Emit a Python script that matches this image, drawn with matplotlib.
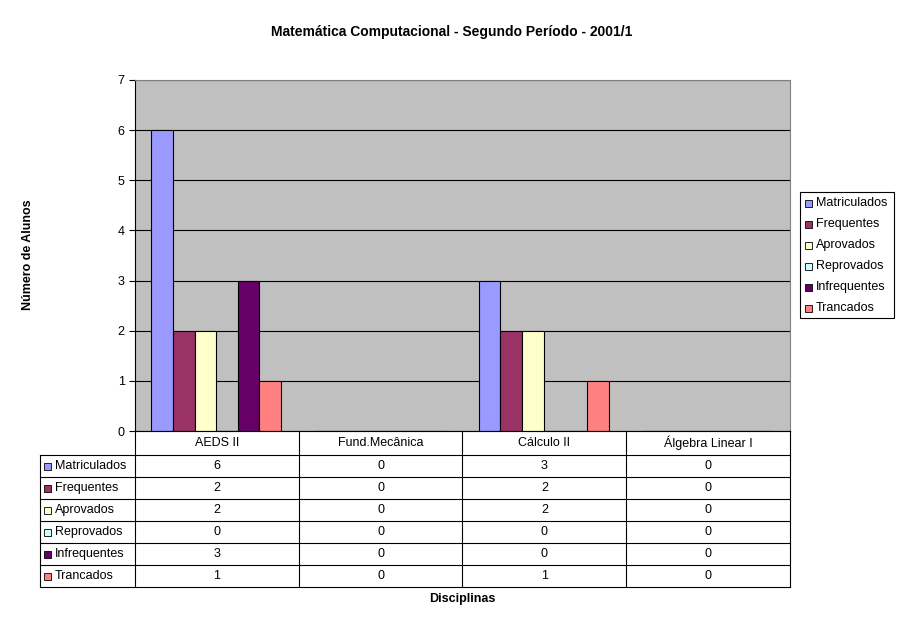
import matplotlib.pyplot as plt
from matplotlib.patches import Rectangle

categories = ["AEDS II", "Fund.Mecânica", "Cálculo II", "Álgebra Linear I"]
series = ["Matriculados", "Frequentes", "Aprovados", "Reprovados", "Infrequentes", "Trancados"]
values = [
    [6, 0, 3, 0],
    [2, 0, 2, 0],
    [2, 0, 2, 0],
    [0, 0, 0, 0],
    [3, 0, 0, 0],
    [1, 0, 1, 0],
]
colors = ["#9999FF", "#993366", "#FFFFCC", "#CCFFFF", "#660066", "#FF8080"]

W, H = 904, 626
fig = plt.figure(figsize=(W / 100, H / 100), dpi=100)
plt.rcParams['font.family'] = ['Liberation Sans', 'DejaVu Sans']

def fx(px):
    return px / W

def fy(py):
    return 1 - py / H

# plot area
x0, x1, y0, y1 = 135, 790, 80, 431
ax = fig.add_axes([fx(x0), fy(y1), fx(x1) - fx(x0), fy(y0) - fy(y1)])
ax.set_facecolor("#C0C0C0")
bw = 0.132
start = -0.5 + 0.1
for i, (name, vals) in enumerate(zip(series, values)):
    xs = [c + start + i * bw for c in range(len(categories))]
    ax.bar(xs, vals, width=bw, align="edge", color=colors[i], edgecolor="black", linewidth=0.8, zorder=3)
ax.set_xlim(-0.5, len(categories) - 0.5)
ax.set_ylim(0, 7)
ax.set_yticks(range(8))
ax.tick_params(axis="y", labelsize=9, length=4, direction="out")
ax.set_xticks([])
ax.grid(axis="y", color="black", linewidth=0.8, zorder=0)
for s in ax.spines.values():
    s.set_color("#808080")
ax.spines["left"].set_color("black")

# data table
tab = fig.add_axes([0, 0, 1, 1])
tab.set_xlim(0, W)
tab.set_ylim(H, 0)
tab.axis("off")
row_top = 431
hdr_h = 24
row_h = 22
left = 40
cw = (x1 - x0) / len(categories)
bottom = row_top + hdr_h + row_h * len(series)
lk = dict(color="black", linewidth=0.8)
# horizontal lines
tab.plot([x0, x1], [row_top, row_top], **lk)
for r in range(len(series) + 1):
    y = row_top + hdr_h + r * row_h
    tab.plot([left, x1], [y, y], **lk)
# vertical lines
tab.plot([left, left], [row_top + hdr_h, bottom], **lk)
for c in range(len(categories) + 1):
    x = x0 + c * cw
    tab.plot([x, x], [row_top, bottom], **lk)
for c, cat in enumerate(categories):
    tab.text(x0 + (c + 0.5) * cw, row_top + hdr_h / 2, cat, ha="center", va="center", fontsize=9)
for r, name in enumerate(series):
    yc = row_top + hdr_h + (r + 0.5) * row_h
    tab.add_patch(Rectangle((44, yc - 3.5), 7, 7, facecolor=colors[r], edgecolor="black", linewidth=0.6))
    tab.text(55, yc, name, ha="left", va="center", fontsize=9)
    for c in range(len(categories)):
        tab.text(x0 + (c + 0.5) * cw, yc, str(values[r][c]), ha="center", va="center", fontsize=9)

# legend
lx0, ly0, lx1, ly1 = 800, 192, 894, 318
tab.add_patch(Rectangle((lx0, ly0), lx1 - lx0, ly1 - ly0, facecolor="white", edgecolor="black", linewidth=0.8))
for r, name in enumerate(series):
    yc = 203 + r * 21
    tab.add_patch(Rectangle((805, yc - 3.5), 7, 7, facecolor=colors[r], edgecolor="black", linewidth=0.6))
    tab.text(816, yc, name, ha="left", va="center", fontsize=9)

fig.text(0.5, fy(32), "Matemática Computacional - Segundo Período - 2001/1", ha="center", va="center",
         fontsize=10, fontweight="bold")
fig.text(fx(28), fy(255), "Número de Alunos", ha="center", va="center", rotation=90, fontsize=9, fontweight="bold")
fig.text(fx(462), fy(599), "Disciplinas", ha="center", va="center", fontsize=9, fontweight="bold")

fig.savefig("out.png", dpi=100)
